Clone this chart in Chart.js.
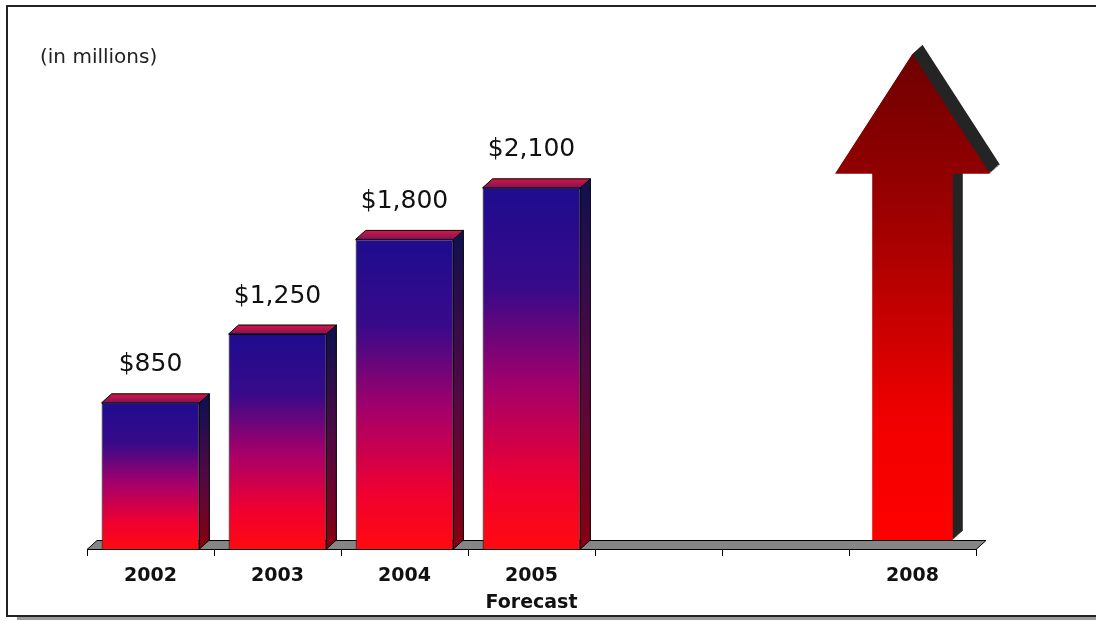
<!DOCTYPE html>
<html>
<head>
<meta charset="utf-8">
<title>Revenue chart</title>
<script src="https://cdn.jsdelivr.net/npm/chart.js@4.4.1/dist/chart.umd.min.js"></script>
<style>
  html, body { margin: 0; padding: 0; background: #fff; }
  #wrap { width: 1096px; height: 621px; }
</style>
</head>
<body>
<div id="wrap"><canvas id="revChart" width="1096" height="621"></canvas></div>
<script>
/* ================= DATA ================= */
const years = ["2002", "2003", "2004", ["2005", "Forecast"], "", "", "2008"];
const revenue = [850, 1250, 1800, 2100, null, null, null];
const outlook = [null, null, null, null, null, null, 2880];
const unitNote = "(in millions)";

/* ================= STYLE ================= */
const DX = 10;   // depth offset to the right
const DY = 9;    // depth offset upwards
const FONT = "'DejaVu Sans', sans-serif";

function money(v) {
  return "$" + v.toLocaleString("en-US");
}

/* front face gradient, one per bar */
function frontFill(c) {
  const chart = c.chart;
  if (!chart.chartArea || c.raw == null) return "#ff0000";
  const y = chart.scales.y;
  const top = y.getPixelForValue(c.raw);
  const bot = y.getPixelForValue(0);
  const g = chart.ctx.createLinearGradient(0, top, 0, bot);
  g.addColorStop(0, "#1e0c8e");
  g.addColorStop(0.28, "#380a8a");
  g.addColorStop(0.55, "#a4006a");
  g.addColorStop(0.82, "#f00030");
  g.addColorStop(1, "#ff0a10");
  return g;
}

/* ================= PLUGIN: frame, floor, 3D faces, arrow ================= */
const scene = {
  id: "scene",
  beforeDraw(chart) {
    const ctx = chart.ctx;
    ctx.save();
    ctx.fillStyle = "#fff";
    ctx.fillRect(0, 0, chart.width, chart.height);
    // frame + shadow
    ctx.fillStyle = "#9a9a9a";
    ctx.fillRect(17, 617, chart.width, 3);
    ctx.strokeStyle = "#222";
    ctx.lineWidth = 2;
    ctx.strokeRect(7, 6, chart.width + 10, 610);
    // unit note
    ctx.fillStyle = "#222";
    ctx.font = "20px " + FONT;
    ctx.textAlign = "left";
    ctx.textBaseline = "middle";
    ctx.fillText(unitNote, 40, 58);
    ctx.restore();
  },
  beforeDatasetsDraw(chart) {
    const ctx = chart.ctx;
    const a = chart.chartArea;
    const b = Math.round(a.bottom) + 0.5;
    ctx.save();
    ctx.beginPath();
    ctx.moveTo(a.left, b);
    ctx.lineTo(a.left + DX, b - DY);
    ctx.lineTo(a.right + DX, b - DY);
    ctx.lineTo(a.right, b);
    ctx.closePath();
    ctx.fillStyle = "#858585";
    ctx.fill();
    ctx.strokeStyle = "#000";
    ctx.lineWidth = 1;
    ctx.stroke();
    ctx.restore();
  },
  afterDatasetsDraw(chart) {
    const ctx = chart.ctx;
    ctx.save();
    ctx.lineWidth = 1;
    ctx.strokeStyle = "#000";

    /* bars: top and side faces + value labels */
    chart.getDatasetMeta(0).data.forEach((el, i) => {
      if (revenue[i] == null) return;
      const { x, y, base, width } = el.getProps(["x", "y", "base", "width"], true);
      const l = x - width / 2, r = x + width / 2;

      const side = ctx.createLinearGradient(0, y, 0, base);
      side.addColorStop(0, "#121050");
      side.addColorStop(0.5, "#520844");
      side.addColorStop(1, "#880010");
      ctx.beginPath();
      ctx.moveTo(r, y);
      ctx.lineTo(r + DX, y - DY);
      ctx.lineTo(r + DX, base - DY);
      ctx.lineTo(r, base);
      ctx.closePath();
      ctx.fillStyle = side;
      ctx.fill();
      ctx.stroke();

      const topG = ctx.createLinearGradient(0, y - DY, 0, y);
      topG.addColorStop(0, "#d8183e");
      topG.addColorStop(1, "#801060");
      ctx.beginPath();
      ctx.moveTo(l, y);
      ctx.lineTo(l + DX, y - DY);
      ctx.lineTo(r + DX, y - DY);
      ctx.lineTo(r, y);
      ctx.closePath();
      ctx.fillStyle = topG;
      ctx.fill();
      ctx.stroke();

      ctx.fillStyle = "#111";
      ctx.font = "25px " + FONT;
      ctx.textAlign = "center";
      ctx.textBaseline = "middle";
      ctx.fillText(money(revenue[i]), x, y - 38);
    });

    /* 2008 outlook arrow */
    chart.getDatasetMeta(1).data.forEach((el, i) => {
      if (outlook[i] == null) return;
      const { x, y, base, width } = el.getProps(["x", "y", "base", "width"], true);
      const hw = width / 2, sw = width * 0.26;
      const headBase = y + 120;
      const bottom = base - DY;
      const pts = [
        [x, y], [x + hw, headBase], [x + sw, headBase], [x + sw, bottom],
        [x - sw, bottom], [x - sw, headBase], [x - hw, headBase]
      ];
      const shape = (ox, oy) => {
        ctx.beginPath();
        pts.forEach((p, k) => k ? ctx.lineTo(p[0] + ox, p[1] + oy) : ctx.moveTo(p[0] + ox, p[1] + oy));
        ctx.closePath();
      };
      ctx.fillStyle = "#242424";
      for (let s = 1; s <= DX; s++) {
        shape(s, -s * DY / DX);
        ctx.fill();
      }
      const g = ctx.createLinearGradient(0, y, 0, bottom);
      g.addColorStop(0, "#6e0000");
      g.addColorStop(0.35, "#a00000");
      g.addColorStop(0.75, "#f00000");
      g.addColorStop(1, "#ff0000");
      shape(0, 0);
      ctx.fillStyle = g;
      ctx.fill();
    });
    ctx.restore();
  }
};

/* ================= CHART INIT ================= */
const ctx = document.getElementById("revChart");

new Chart(ctx, {
  type: "bar",
  data: {
    labels: years,
    datasets: [
      {
        label: "Revenue",
        data: revenue,
        backgroundColor: frontFill,
        borderColor: "#000",
        borderWidth: 1,
        barPercentage: 0.77,
        categoryPercentage: 1,
        grouped: false
      },
      {
        label: "Outlook",
        data: outlook,
        backgroundColor: "rgba(0,0,0,0)",
        borderWidth: 0,
        barPercentage: 1.22,
        categoryPercentage: 1,
        grouped: false
      }
    ]
  },
  options: {
    responsive: false,
    animation: false,
    layout: { padding: { top: 33, left: 87, right: 120, bottom: 0 } },
    plugins: {
      legend: { display: false },
      tooltip: { enabled: false }
    },
    scales: {
      x: {
        afterFit: (s) => { s.height = 72; },
        grid: {
          offset: true,
          drawOnChartArea: false,
          tickLength: 7,
          color: "#000"
        },
        border: { display: true, color: "#000" },
        ticks: {
          color: "#111",
          padding: 7,
          maxRotation: 0,
          autoSkip: false,
          font: { family: FONT, size: 19, weight: "bold", lineHeight: 1.42 }
        }
      },
      y: {
        display: false,
        min: 0,
        max: 3000
      }
    }
  },
  plugins: [scene]
});
</script>
</body>
</html>
